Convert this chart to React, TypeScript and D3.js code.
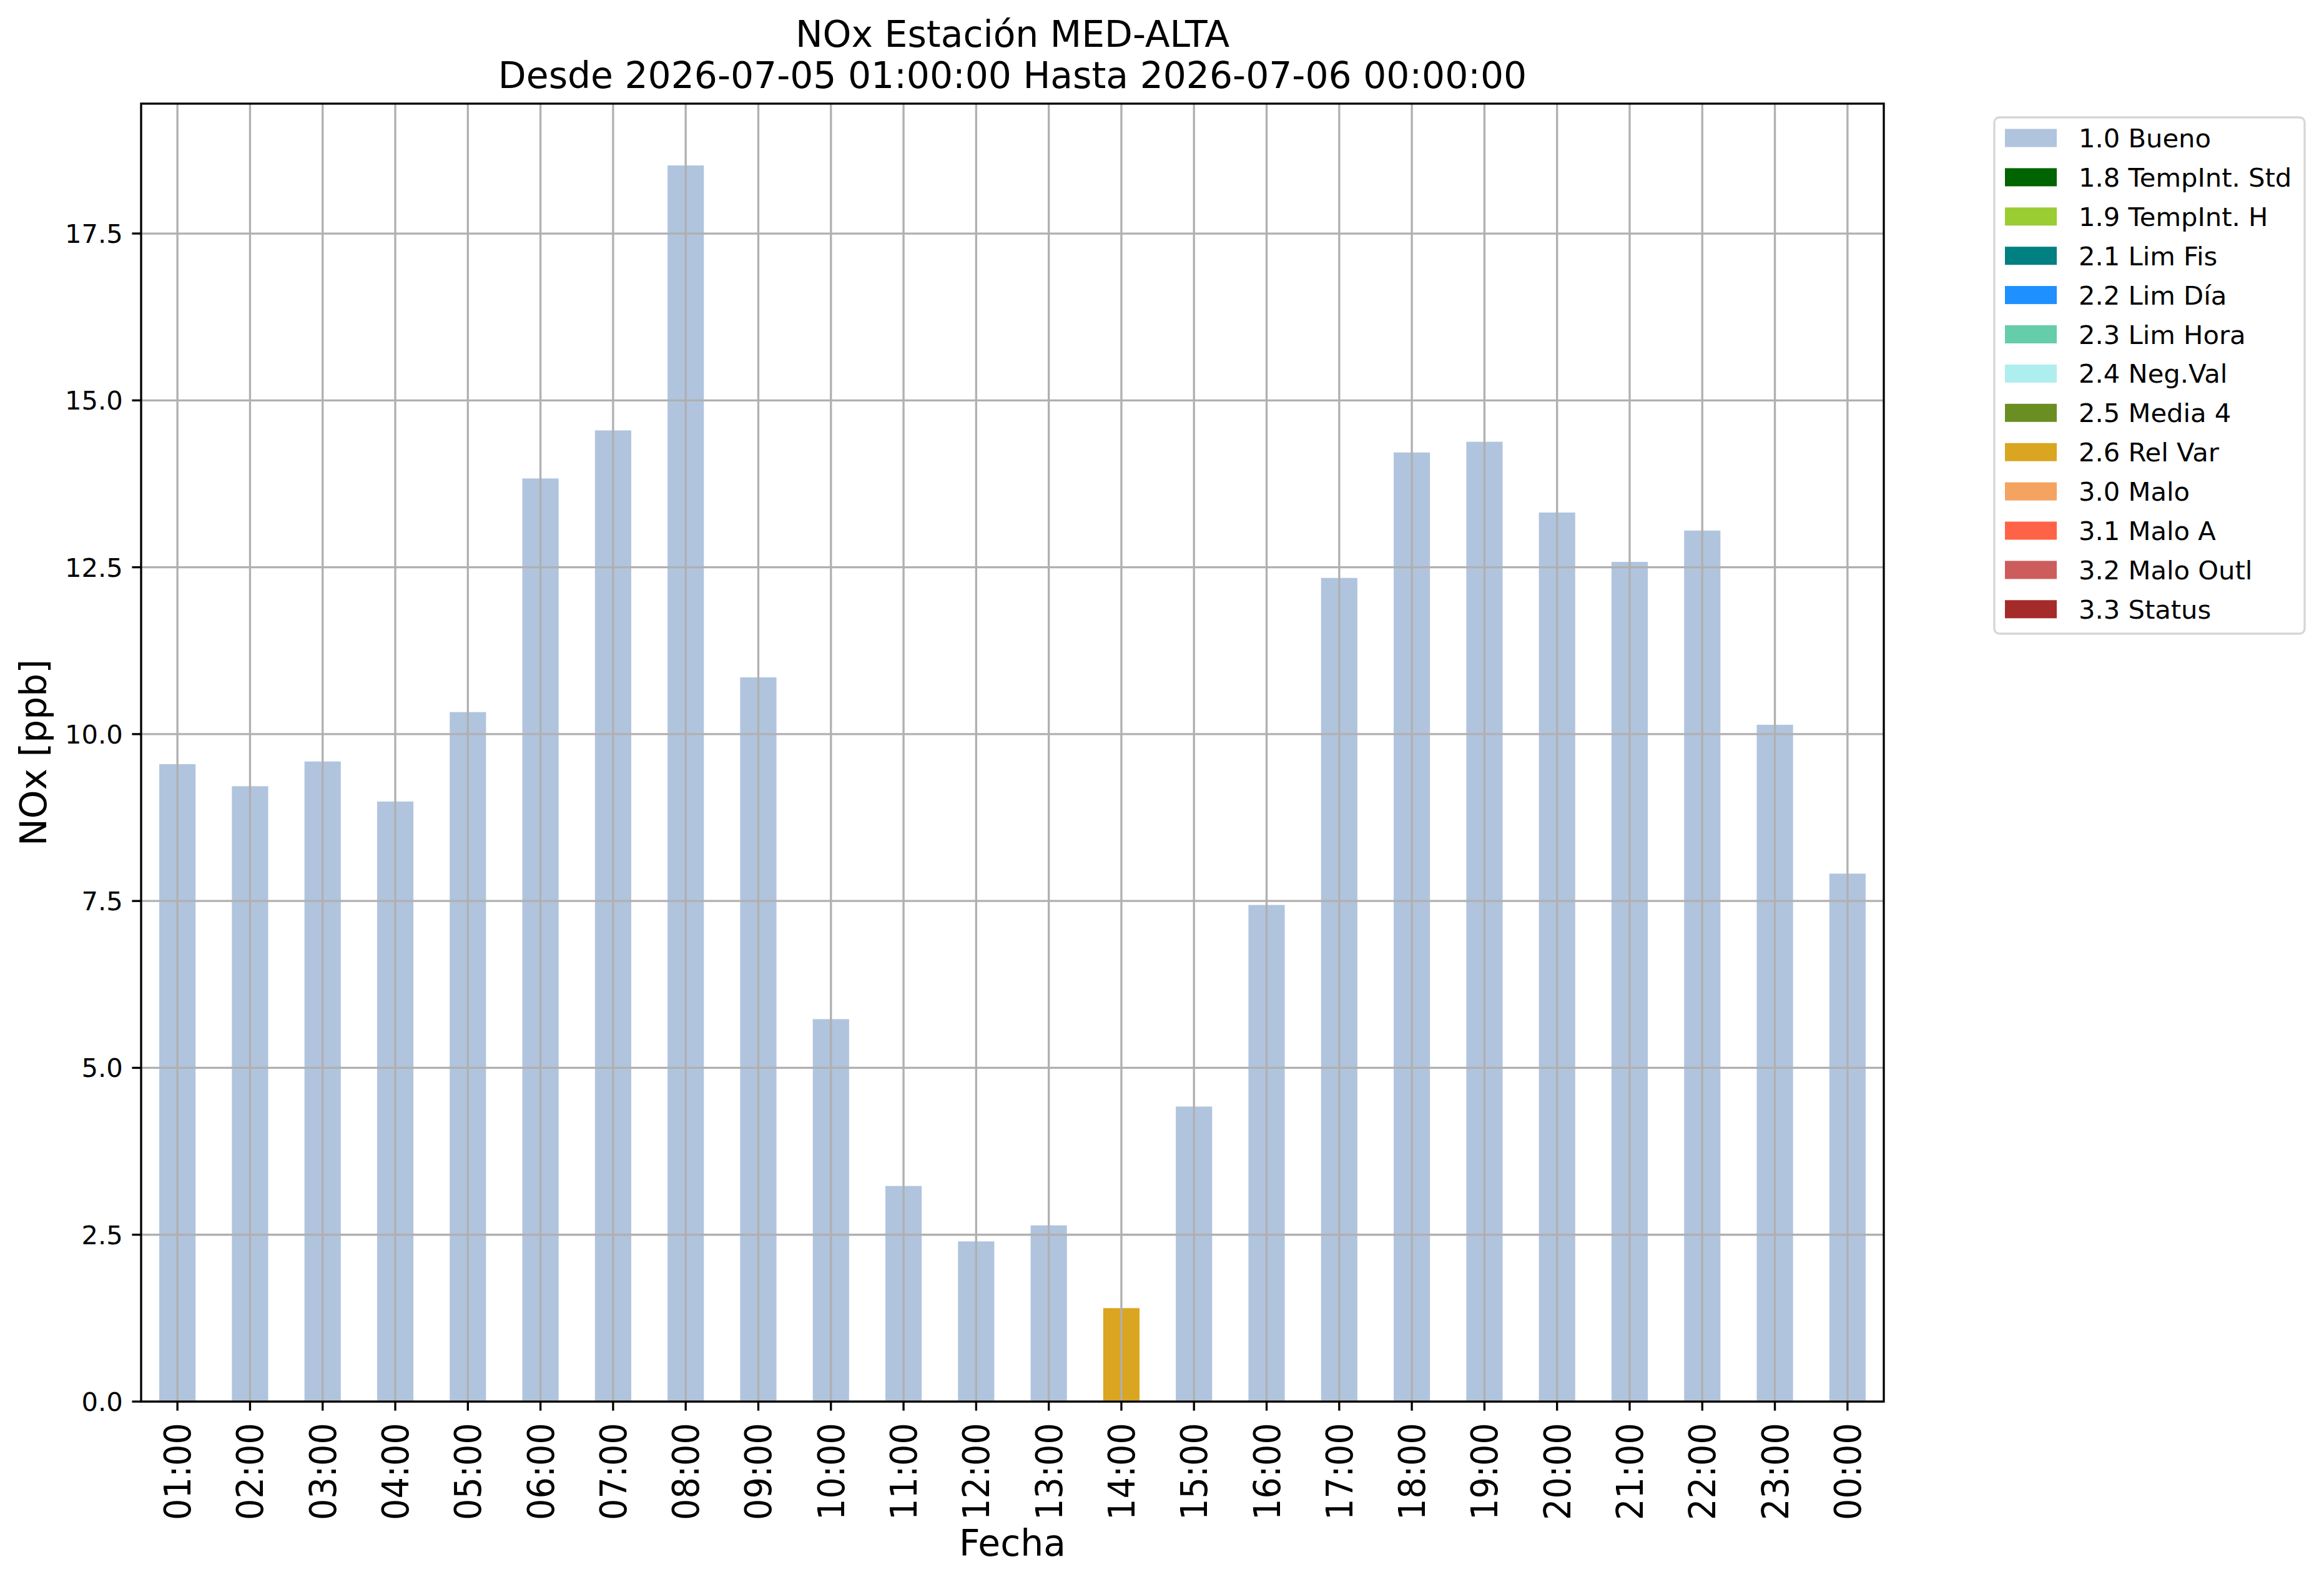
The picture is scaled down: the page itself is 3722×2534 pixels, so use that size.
import React from 'react';
import * as d3 from 'd3';

// hourly NOx readings, station MED-ALTA
const hours = [
  '01:00', '02:00', '03:00', '04:00', '05:00', '06:00', '07:00', '08:00',
  '09:00', '10:00', '11:00', '12:00', '13:00', '14:00', '15:00', '16:00',
  '17:00', '18:00', '19:00', '20:00', '21:00', '22:00', '23:00', '00:00'
];
const noxValues = [
  9.55, 9.22, 9.59, 8.99, 10.33, 13.83, 14.55, 18.52,
  10.85, 5.73, 3.23, 2.40, 2.64, 1.40, 4.42, 7.44,
  12.34, 14.22, 14.38, 13.32, 12.58, 13.05, 10.14, 7.91
];
// validation flag of each hour
const flagCodes = [
  '1.0', '1.0', '1.0', '1.0', '1.0', '1.0', '1.0', '1.0',
  '1.0', '1.0', '1.0', '1.0', '1.0', '2.6', '1.0', '1.0',
  '1.0', '1.0', '1.0', '1.0', '1.0', '1.0', '1.0', '1.0'
];

const flagKeys = ['1.0', '1.8', '1.9', '2.1', '2.2', '2.3', '2.4', '2.5', '2.6', '3.0', '3.1', '3.2', '3.3'];
const flagLabels = [
  '1.0 Bueno', '1.8 TempInt. Std', '1.9 TempInt. H', '2.1 Lim Fis', '2.2 Lim Día',
  '2.3 Lim Hora', '2.4 Neg.Val', '2.5 Media 4', '2.6 Rel Var', '3.0 Malo',
  '3.1 Malo A', '3.2 Malo Outl', '3.3 Status'
];
const flagColors = [
  '#b0c4de', '#006400', '#9acd32', '#008080', '#1e90ff', '#66cdaa', '#afeeee',
  '#6b8e23', '#daa520', '#f4a460', '#ff6347', '#cd5c5c', '#a52a2a'
];

const W = 3722;
const H = 2534;
const PT = 300 / 72;
const margin = { left: 226, right: 3017, top: 166, bottom: 2245 };
const FONT = 'DejaVu Sans';

type Row = { hour: string; [k: string]: number | string };

const App: React.FC = () => {
  // one column per flag, the value sits in the column of its flag
  const table: Row[] = hours.map((h, i) => {
    const row: Row = { hour: h };
    flagKeys.forEach(k => { row[k] = flagCodes[i] === k ? noxValues[i] : 0; });
    return row;
  });

  const series = d3.stack<Row>().keys(flagKeys).value((d, k) => d[k] as number)(table);

  const x = d3.scaleBand<string>()
    .domain(hours)
    .range([margin.left, margin.right])
    .paddingInner(0.5)
    .paddingOuter(0.25);

  const yMax = (d3.max(noxValues) ?? 0) * 1.05;
  const y = d3.scaleLinear().domain([0, yMax]).range([margin.bottom, margin.top]);
  const yTicks = d3.range(0, yMax, 2.5);
  const fmt = d3.format('.1f');

  const lw = 0.8 * PT;
  const tickLen = 3.5 * PT;
  const small = 10 * PT;
  const big = 14 * PT;
  const cx = (margin.left + margin.right) / 2;
  const cy = (margin.top + margin.bottom) / 2;

  const legendTop = 221;
  const rowStep = 62.9;

  return (
    <svg width={W} height={H} style={{ position: 'absolute', left: 0, top: 0, background: '#fff' }}
      fontFamily={FONT}>
      <rect width={W} height={H} fill="#fff" />

      {/* bars */}
      {series.map((s, si) => (
        <g key={s.key} fill={flagColors[si]}>
          {s.map((d, i) => d[1] - d[0] > 0 ? (
            <rect key={i}
              x={x(hours[i])}
              width={x.bandwidth()}
              y={y(d[1])}
              height={y(d[0]) - y(d[1])} />
          ) : null)}
        </g>
      ))}

      {/* grid */}
      <g stroke="#b0b0b0" strokeWidth={lw}>
        {hours.map(h => {
          const px = (x(h) ?? 0) + x.bandwidth() / 2;
          return <line key={h} x1={px} x2={px} y1={margin.top} y2={margin.bottom} />;
        })}
        {yTicks.map(t => (
          <line key={t} x1={margin.left} x2={margin.right} y1={y(t)} y2={y(t)} />
        ))}
      </g>

      {/* frame */}
      <rect x={margin.left} y={margin.top} width={margin.right - margin.left}
        height={margin.bottom - margin.top} fill="none" stroke="#000" strokeWidth={lw} />

      {/* y axis */}
      {yTicks.map(t => (
        <g key={t}>
          <line x1={margin.left - tickLen} x2={margin.left} y1={y(t)} y2={y(t)} stroke="#000" strokeWidth={lw} />
          <text x={margin.left - tickLen - 3.5 * PT} y={y(t)} dy="0.36em" textAnchor="end" fontSize={small}>
            {fmt(t)}
          </text>
        </g>
      ))}

      {/* x axis */}
      {hours.map(h => {
        const px = (x(h) ?? 0) + x.bandwidth() / 2;
        return (
          <g key={h}>
            <line x1={px} x2={px} y1={margin.bottom} y2={margin.bottom + tickLen} stroke="#000" strokeWidth={lw} />
            <text transform={`translate(${px},2279) rotate(-90)`}
              textAnchor="end" dy="0.36em" fontSize={big}
              textLength={156} lengthAdjust="spacingAndGlyphs">
              {h}
            </text>
          </g>
        );
      })}

      {/* labels */}
      <text x={cx} y={2492} textAnchor="middle" fontSize={big}>Fecha</text>
      <text transform={`translate(74,${cy}) rotate(-90)`} textAnchor="middle" fontSize={big}>NOx [ppb]</text>
      <text x={cx} y={75} textAnchor="middle" fontSize={big}>NOx Estación MED-ALTA</text>
      <text x={cx} y={141} textAnchor="middle" fontSize={big}>Desde 2026-07-05 01:00:00 Hasta 2026-07-06 00:00:00</text>

      {/* legend */}
      <rect x={3194} y={188} width={497} height={827} rx={8} fill="#fff" stroke="#d6d6d6" strokeWidth={lw} />
      {flagLabels.map((lab, i) => {
        const ry = legendTop + i * rowStep;
        return (
          <g key={lab}>
            <rect x={3211} y={ry - 14.5} width={83} height={29} fill={flagColors[i]} />
            <text x={3329} y={ry} dy="0.36em" fontSize={small}>{lab}</text>
          </g>
        );
      })}
    </svg>
  );
};

export default App;
